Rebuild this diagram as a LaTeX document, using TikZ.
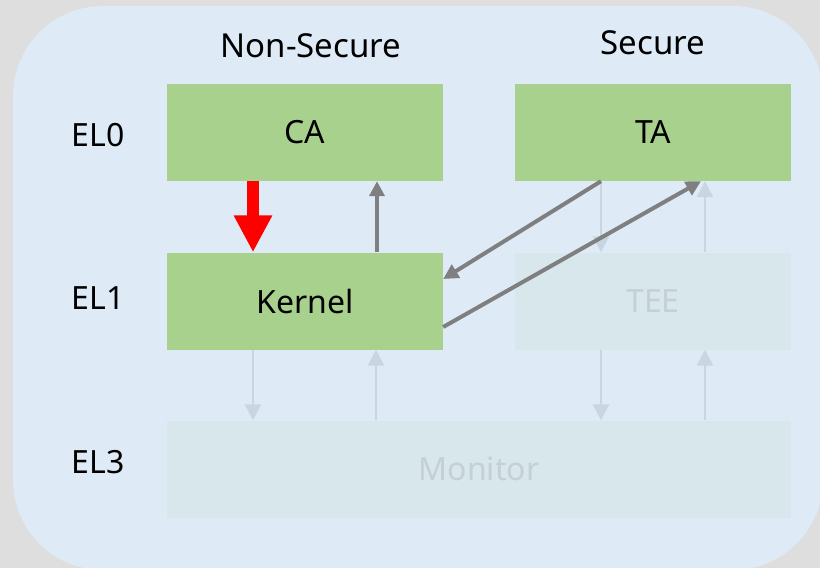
\documentclass[tikz,border=0pt]{standalone}
\usepackage{fontspec}
\setmainfont{Noto Sans}
\usetikzlibrary{arrows.meta,calc}
\definecolor{bgout}{HTML}{DEDEDE}
\definecolor{panel}{HTML}{DEEAF6}
\definecolor{boxgreen}{HTML}{A9D18E}
\definecolor{fadebox}{HTML}{D8E7EC}
\definecolor{fadearrow}{HTML}{C9D5E1}
\definecolor{fadetext}{HTML}{C4D0D6}
\definecolor{darkarrow}{HTML}{7F7F7F}
\begin{document}
\begin{tikzpicture}[x=1pt,y=-1pt,
  every node/.style={font=\fontsize{32}{38}\selectfont},
  header/.style={font=\fontsize{33}{39}\selectfont},
  greenbox/.style={fill=boxgreen, minimum width=276pt, minimum height=97pt, inner sep=0pt, text=black},
  fadedbox/.style={fill=fadebox, minimum width=276pt, minimum height=97pt, inner sep=0pt, text=fadetext},
  darrow/.style={draw=darkarrow, line width=4pt, -{Triangle[length=15pt,width=15pt]}},
  farrow/.style={draw=fadearrow, line width=2.5pt, -{Triangle[length=16pt,width=16pt]}},
  redarrow/.style={draw=red, line width=12pt, -{Triangle[length=37pt,width=36pt]}}
]
\useasboundingbox (0,0) rectangle (820,568);
\fill[bgout] (0,0) rectangle (820,568);
\fill[panel, rounded corners=90pt] (13,6) rectangle (823,570);

\node[header] (ns) at (311,46) {Non-Secure};
\node[header] (sec) at (653,43) {Secure};
\node (el0) at (98,135) {EL0};
\node (el1) at (98,298) {EL1};
\node (el3) at (98,462) {EL3};

\node[greenbox] (ca) at (305,132.5) {CA};
\node[greenbox] (ta) at (653,132.5) {TA};
\node[greenbox] (kernel) at (305,301) {Kernel};
\node[fadedbox] (tee) at (653,301) {TEE};
\node[fadedbox, minimum width=624pt] (monitor) at (479,469) {Monitor};

% faded arrows
\draw[farrow] ([xshift=-52pt]ta.south) -- ([xshift=-52pt]tee.north);
\draw[farrow] ([xshift=52pt]tee.north) -- ([xshift=52pt]ta.south);
\draw[farrow] ([xshift=-52pt]kernel.south) -- ([xshift=-52pt]kernel.south |- monitor.north);
\draw[farrow] ([xshift=71pt]kernel.south |- monitor.north) -- ([xshift=71pt]kernel.south);
\draw[farrow] ([xshift=-52pt]tee.south) -- ([xshift=-52pt]tee.south |- monitor.north);
\draw[farrow] ([xshift=52pt]tee.south |- monitor.north) -- ([xshift=52pt]tee.south);

% dark arrows
\draw[redarrow] ([xshift=-52pt]ca.south) -- ([xshift=-52pt]kernel.north);
\draw[darrow] ([xshift=72pt]kernel.north) -- ([xshift=72pt]ca.south);
\draw[darrow] ([xshift=-52pt]ta.south) -- ([yshift=22pt]kernel.east);
\draw[darrow] ([yshift=-26pt]kernel.east) -- ([xshift=48pt]ta.south);
\end{tikzpicture}
\end{document}
